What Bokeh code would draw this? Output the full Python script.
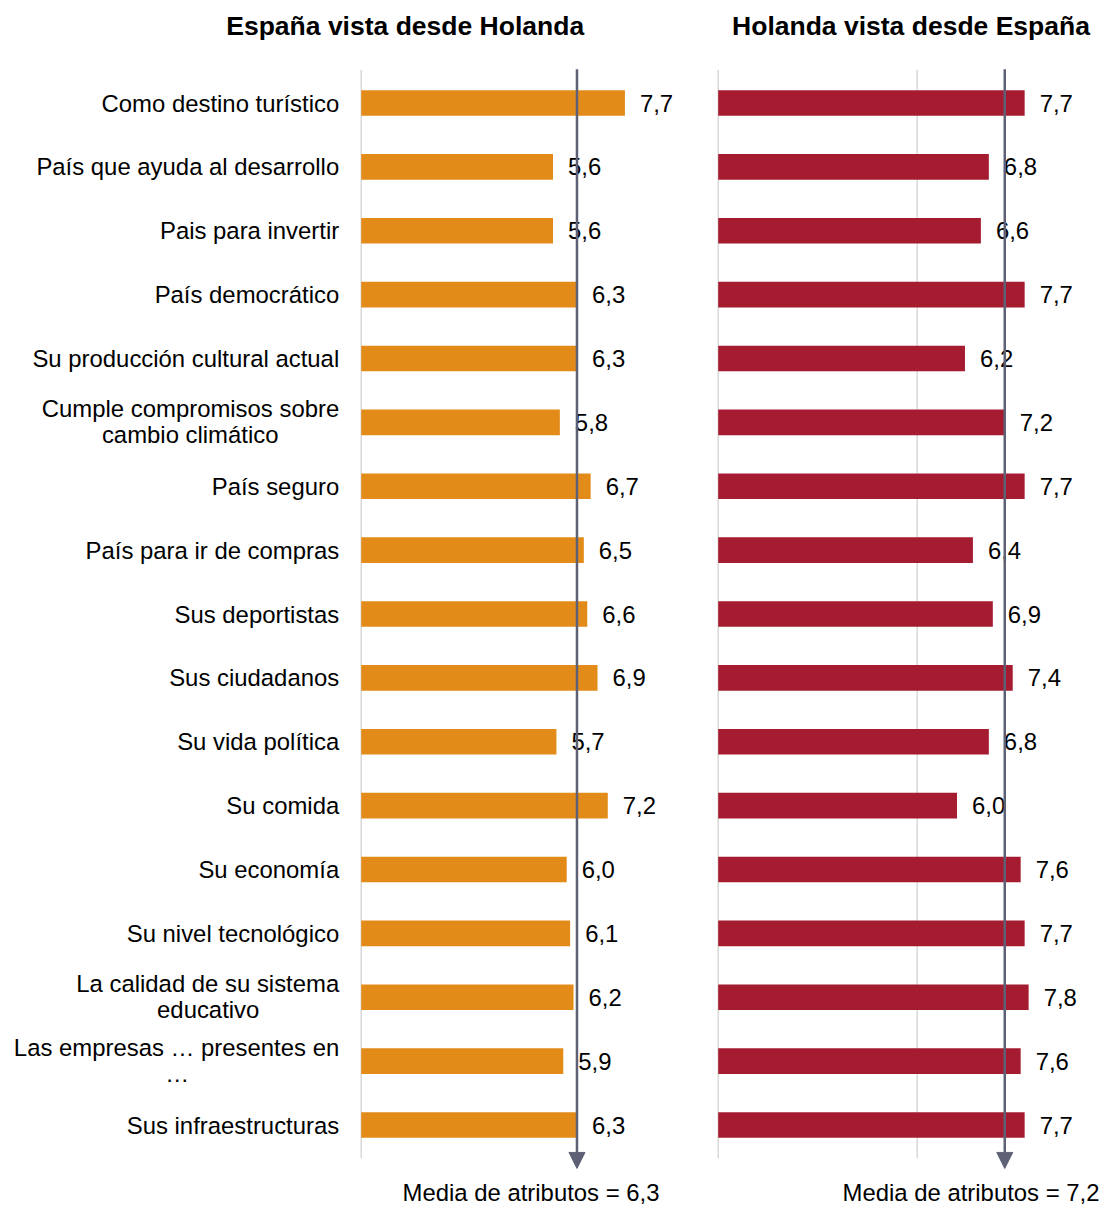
from bokeh.plotting import figure
from bokeh.models import Range1d, ColumnDataSource, Label, Arrow, NormalHead
from bokeh.layouts import row
from bokeh.embed import file_html
from bokeh.resources import INLINE
from bokeh.core.properties import value

# ---------------- data ----------------
categories = [
    "Como destino turístico",
    "País que ayuda al desarrollo",
    "Pais para invertir",
    "País democrático",
    "Su producción cultural actual",
    "Cumple compromisos sobre\ncambio climático",
    "País seguro",
    "País para ir de compras",
    "Sus deportistas",
    "Sus ciudadanos",
    "Su vida política",
    "Su comida",
    "Su economía",
    "Su nivel tecnológico",
    "La calidad de su sistema\neducativo",
    "Las empresas … presentes en\n…",
    "Sus infraestructuras",
]
espana_vista_desde_holanda = [7.7, 5.6, 5.6, 6.3, 6.3, 5.8, 6.7, 6.5, 6.6, 6.9, 5.7, 7.2, 6.0, 6.1, 6.2, 5.9, 6.3]
holanda_vista_desde_espana = [7.7, 6.8, 6.6, 7.7, 6.2, 7.2, 7.7, 6.4, 6.9, 7.4, 6.8, 6.0, 7.6, 7.7, 7.8, 7.6, 7.7]
media_izq = 6.3
media_der = 7.2
titulos = ["España vista desde Holanda", "Holanda vista desde España"]
texto_media = "Media de atributos = "
grid_izq = [0]
grid_der = [0, 5]

# ---------------- style / layout ----------------
FONT = "Liberation Sans"
FS = "23.9px"
ORANGE = "#E38B19"
RED = "#A51B30"
ARROW_C = "#5E6176"
GRID_C = "#D9D9D9"

H = 1207
ROW_PX = 63.875
ROW0 = 102.5
W_L, ZERO_L, PX_L = 705, 360.7, 34.25
W_R, ZERO_R, PX_R = 400, 12.7, 39.8
LABEL_GAP = 22
# half width (px) of the first line of wrapped labels, to centre the 2nd line under it
WRAP_HALF = {0: 149, 1: 131, 2: 162}

n = len(categories)
rows = list(range(n))


def fmt(v):
    return f"{v:.1f}".replace(".", ",")


def panel(width, zero, pxu, values, color, mean, grid, title, title_x, mean_x):
    p = figure(width=width, height=H,
               x_range=Range1d(-zero / pxu, (width - zero) / pxu),
               y_range=Range1d((H - ROW0) / ROW_PX, -ROW0 / ROW_PX),
               min_border=0, toolbar_location=None, output_backend="svg",
               x_axis_location=None, y_axis_location=None, title=None)
    p.grid.visible = False
    p.outline_line_color = None
    p.background_fill_color = "white"
    p.border_fill_color = "white"

    p.segment(x0=grid, y0=[-0.52] * len(grid), x1=grid, y1=[n - 0.48] * len(grid),
              line_color=GRID_C, line_width=1.5)

    src = ColumnDataSource(dict(y=rows, v=values, lab=[fmt(v) for v in values]))
    p.hbar(y="y", left=0, right="v", height=0.4, fill_color=color,
           line_color=None, source=src)
    p.text(x="v", y="y", text="lab", source=src, x_offset=15,
           text_align="left", text_baseline="middle",
           text_font=value(FONT), text_font_size=FS, text_color="black")

    p.add_layout(Arrow(x_start=mean, y_start=-0.53, x_end=mean, y_end=16.68,
                       line_color=ARROW_C, line_width=2.5,
                       end=NormalHead(size=16, fill_color=ARROW_C, line_color=ARROW_C)))

    p.add_layout(Label(x=title_x, y=H - 25, x_units="screen", y_units="screen",
                       text=title, text_align="center", text_baseline="alphabetic",
                       text_font=FONT, text_font_style="bold", text_font_size="26.5px",
                       text_color="black"))
    p.add_layout(Label(x=mean_x, y=15, x_units="screen", y_units="screen",
                       text=texto_media + fmt(mean), text_align="center",
                       text_baseline="alphabetic", text_font=FONT,
                       text_font_size=FS, text_color="black"))
    return p


left = panel(W_L, ZERO_L, PX_L, espana_vista_desde_holanda, ORANGE, media_izq,
             grid_izq, titulos[0], 404.7, 530.5)
right = panel(W_R, ZERO_R, PX_R, holanda_vista_desde_espana, RED, media_der,
              grid_der, titulos[1], 205.5, 265.5)

# category labels
single_y, single_t = [], []
w1_y, w1_t, w2_y, w2_t, w2_off = [], [], [], [], []
k = 0
for i, c in enumerate(categories):
    if "\n" in c:
        a, b = c.split("\n")
        w1_y.append(i); w1_t.append(a)
        w2_y.append(i); w2_t.append(b)
        w2_off.append(-LABEL_GAP - WRAP_HALF[k])
        k += 1
    else:
        single_y.append(i); single_t.append(c)

common = dict(text_baseline="middle", text_font=value(FONT), text_font_size=FS,
              text_color="black")
left.text(x=[0] * len(single_y), y=single_y, text=single_t, x_offset=-LABEL_GAP,
          text_align="right", **common)
left.text(x=[0] * len(w1_y), y=w1_y, text=w1_t, x_offset=-LABEL_GAP, y_offset=-13.5,
          text_align="right", **common)
src2 = ColumnDataSource(dict(x=[0] * len(w2_y), y=w2_y, t=w2_t, off=w2_off))
left.text(x="x", y="y", text="t", x_offset="off", y_offset=12, source=src2,
          text_align="center", **common)

layout = row(left, right, spacing=0)
open("out.html", "w").write(file_html(layout, INLINE))
